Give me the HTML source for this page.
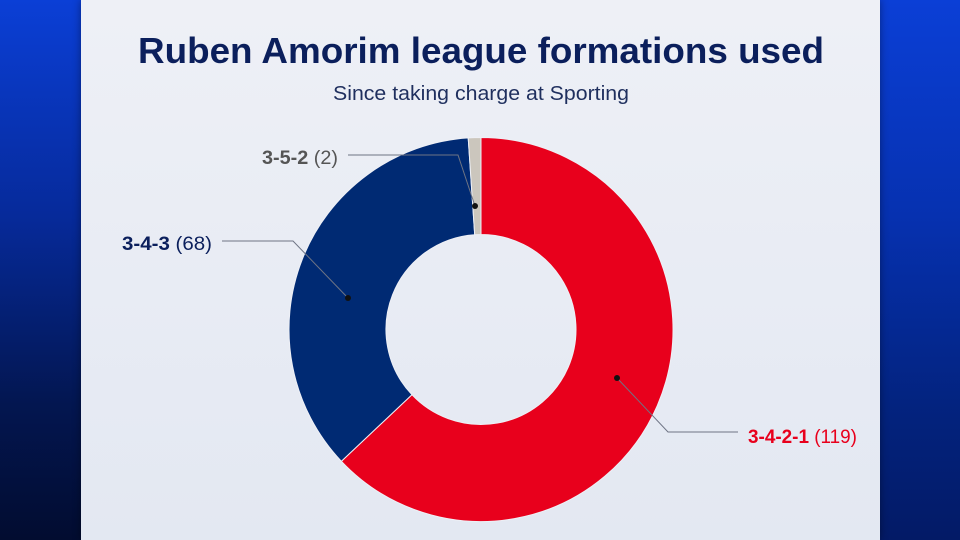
<!DOCTYPE html>
<html><head><style>
html,body{margin:0;padding:0;width:960px;height:540px;overflow:hidden;font-family:"Liberation Sans",sans-serif}
.bgl{position:absolute;left:0;top:0;width:480px;height:540px;background:linear-gradient(180deg,#0b3fd6 0%,#062a9a 40%,#031650 75%,#020c30 100%)}
.bgr{position:absolute;left:480px;top:0;width:480px;height:540px;background:linear-gradient(180deg,#0b3fd6 0%,#0631b0 40%,#03237f 75%,#031a66 100%)}
.panel{position:absolute;left:81px;top:0;width:799px;height:540px;background:linear-gradient(180deg,#eef0f6,#e3e8f2);box-shadow:0 0 8px rgba(0,0,0,.4)}
</style></head><body>
<div class="bgl"></div><div class="bgr"></div>
<div class="panel"></div>
<svg width="960" height="540" style="position:absolute;left:0;top:0">
<text x="481" y="63" text-anchor="middle" font-size="36" font-weight="bold" fill="#0b1f5c" font-family="Liberation Sans" textLength="686" lengthAdjust="spacingAndGlyphs">Ruben Amorim league formations used</text>
<text x="481" y="100" text-anchor="middle" font-size="20" fill="#1f2f5e" font-family="Liberation Sans" textLength="296" lengthAdjust="spacingAndGlyphs">Since taking charge at Sporting</text>
<path d="M481,137.5 A192,192 0 1 1 341.4,461.3 L411.9,394.7 A95,95 0 1 0 481,234.5 Z" fill="#e8001c" stroke="#eef0f6" stroke-width="1"/>
<path d="M341.4,461.3 A192,192 0 0 1 468.2,137.9 L474.7,234.7 A95,95 0 0 0 411.9,394.7 Z" fill="#002a73" stroke="#eef0f6" stroke-width="1"/>
<path d="M468.2,137.9 A192,192 0 0 1 481,137.5 L481,234.5 A95,95 0 0 0 474.7,234.7 Z" fill="#cbc6bd" stroke="#eef0f6" stroke-width="1"/>
<g stroke="#6e7484" stroke-width="1" fill="none">
<polyline points="348,155 458,155 475,206"/>
<polyline points="222,241 293,241 348,298"/>
<polyline points="617,378 668,432 738,432"/>
</g>
<g fill="#111">
<circle cx="475" cy="206" r="3"/><circle cx="348" cy="298" r="3"/><circle cx="617" cy="378" r="3"/>
</g>
<text x="262" y="164" font-size="19" fill="#555" font-family="Liberation Sans" textLength="76" lengthAdjust="spacingAndGlyphs"><tspan font-weight="bold">3-5-2</tspan> (2)</text>
<text x="122" y="250" font-size="19" fill="#0b1f5c" font-family="Liberation Sans" textLength="90" lengthAdjust="spacingAndGlyphs"><tspan font-weight="bold">3-4-3</tspan> (68)</text>
<text x="748" y="443" font-size="19" fill="#e8001c" font-family="Liberation Sans" textLength="109" lengthAdjust="spacingAndGlyphs"><tspan font-weight="bold">3-4-2-1</tspan> (119)</text>
</svg>
</body></html>
